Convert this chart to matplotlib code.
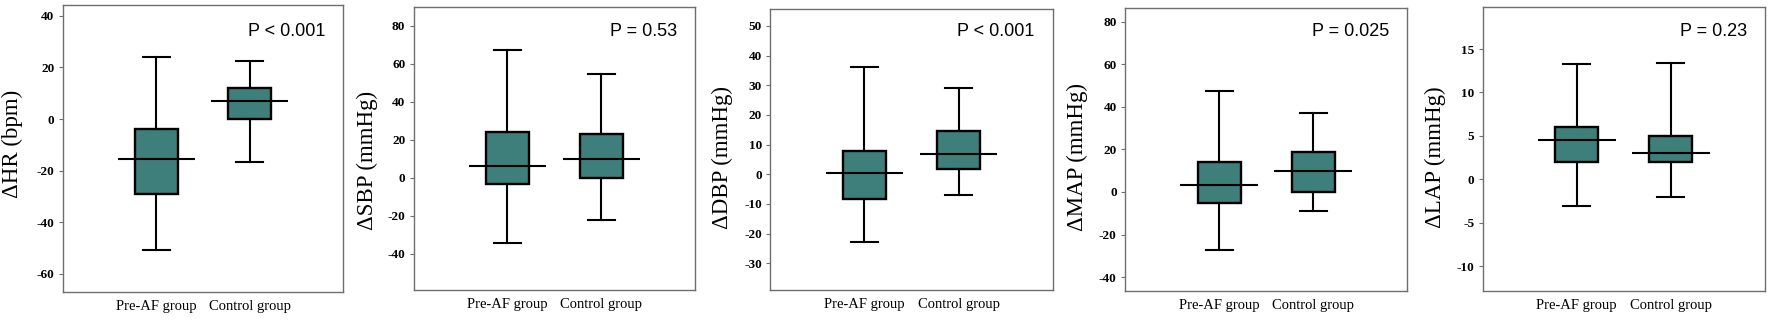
import matplotlib
matplotlib.use("Agg")
import matplotlib.pyplot as plt

# ---- data -------------------------------------------------------------
groups = ["Pre-AF group", "Control group"]
y_labels = ["ΔHR (bpm)", "ΔSBP (mmHg)", "ΔDBP (mmHg)", "ΔMAP (mmHg)", "ΔLAP (mmHg)"]
p_texts = ["P < 0.001", "P = 0.53", "P < 0.001", "P = 0.025", "P = 0.23"]

# five-number summaries: (lower whisker, Q1, median, Q3, upper whisker)
hr_pre = [-50.6, -29.1, -15.5, -4.0, 24.0]
hr_ctrl = [-16.5, 0.0, 7.0, 12.0, 22.6]
sbp_pre = [-34.3, -3.1, 6.0, 24.0, 67.5]
sbp_ctrl = [-22.0, 0.0, 10.0, 23.0, 54.5]
dbp_pre = [-22.8, -8.2, 0.4, 7.9, 36.0]
dbp_ctrl = [-6.9, 1.8, 6.9, 14.7, 29.0]
map_pre = [-27.3, -5.0, 3.5, 14.0, 47.5]
map_ctrl = [-9.1, 0.0, 10.0, 19.0, 37.0]
lap_pre = [-3.0, 2.0, 4.5, 6.0, 13.3]
lap_ctrl = [-2.0, 2.0, 3.0, 5.0, 13.4]

y_limits = [(-66.9, 44.3), (-59.0, 89.7), (-39.0, 55.6), (-46.4, 86.3), (-12.8, 19.8)]
y_ticks = [list(range(-60, 41, 20)), list(range(-40, 81, 20)), list(range(-30, 51, 10)),
           list(range(-40, 81, 20)), list(range(-10, 16, 5))]

panels = [(hr_pre, hr_ctrl), (sbp_pre, sbp_ctrl), (dbp_pre, dbp_ctrl),
          (map_pre, map_ctrl), (lap_pre, lap_ctrl)]

# ---- layout (pixel boxes: left, top, right, bottom) --------------------
W, H = 1772, 324
rects = [(62.7, 4.7, 343.3, 291.7), (413.7, 7.3, 695.0, 290.0),
         (770.3, 9.3, 1052.7, 290.0), (1125.0, 8.3, 1407.3, 290.7),
         (1482.7, 7.3, 1765.0, 290.7)]
label_x = [-0.141, -0.128, -0.133, -0.132, -0.131]
label_y = [0.515, 0.46, 0.472, 0.472, 0.47]

TEAL = "#3e7f7b"
SPINE = "#6e6e6e"
SERIF = "Liberation Serif"
SANS = "Liberation Sans"

fig = plt.figure(figsize=(W / 100, H / 100), dpi=100)

for i, (pre, ctrl) in enumerate(panels):
    l, t, r, b = rects[i]
    ax = fig.add_axes([l / W, 1 - b / H, (r - l) / W, (b - t) / H])

    stats = []
    for name, s in zip(groups, (pre, ctrl)):
        stats.append(dict(label=name, whislo=s[0], q1=s[1], med=s[2],
                          q3=s[3], whishi=s[4], fliers=[]))
    positions = [1, 2]
    ax.bxp(stats, positions=positions, widths=0.457, patch_artist=True,
           showfliers=False, capwidths=0.285,
           boxprops=dict(facecolor=TEAL, edgecolor="black", linewidth=1.7),
           whiskerprops=dict(color="black", linewidth=1.5),
           capprops=dict(color="black", linewidth=1.5),
           medianprops=dict(visible=False))
    # median bars reach beyond the box on both sides
    for pos, s in zip(positions, (pre, ctrl)):
        ax.hlines(s[2], pos - 0.413, pos + 0.413, colors="black",
                  linewidth=1.5, zorder=4)

    ax.set_xlim(0, 3)
    ax.set_ylim(*y_limits[i])
    ax.set_yticks(y_ticks[i])
    ax.set_yticklabels([str(v) for v in y_ticks[i]], family=SERIF,
                       fontsize=9.5, fontweight="bold")
    ax.set_xticks(positions)
    ax.set_xticklabels(groups, family=SERIF, fontsize=10.5)
    ax.tick_params(axis="x", length=0, pad=6)
    ax.tick_params(axis="y", length=3, width=0.8, color=SPINE, pad=3)
    for sp in ax.spines.values():
        sp.set_color(SPINE)
        sp.set_linewidth(1.0)

    ax.set_ylabel(y_labels[i], family=SERIF, fontsize=16.5)
    ax.yaxis.set_label_coords(label_x[i], label_y[i])

    fig.text((r - 18) / W, 1 - 35.5 / H, p_texts[i], family=SANS,
             fontsize=13, ha="right", va="baseline")

fig.savefig("out.png", dpi=100)
